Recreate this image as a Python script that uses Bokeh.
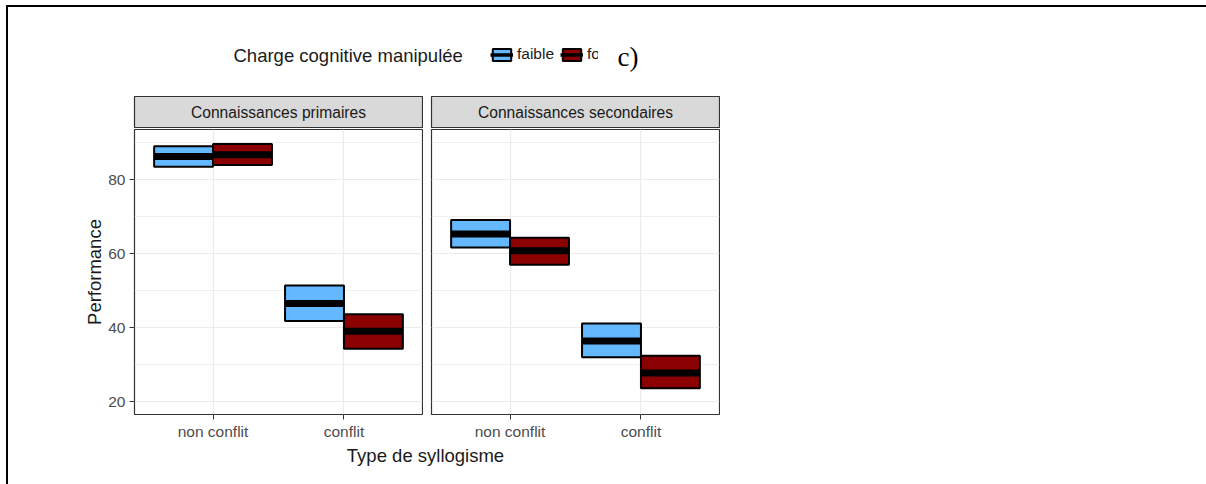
from bokeh.plotting import figure
from bokeh.models import (FactorRange, Range1d, FixedTicker, ColumnDataSource, Label,
                          Legend, LegendItem, Grid)
from bokeh.layouts import column, row
from bokeh.transform import dodge
from bokeh.embed import file_html
from bokeh.resources import INLINE

# ---------------- data ----------------
types = ["non conflit", "conflit"]
panels = ["Connaissances primaires", "Connaissances secondaires"]
charges = ["faible", "fort"]

prim_faible_mean = [86.3, 46.5]
prim_faible_low = [83.5, 41.8]
prim_faible_high = [89.1, 51.4]
prim_fort_mean = [86.8, 39.0]
prim_fort_low = [84.0, 34.3]
prim_fort_high = [89.7, 43.6]

sec_faible_mean = [65.3, 36.4]
sec_faible_low = [61.7, 32.0]
sec_faible_high = [69.1, 41.1]
sec_fort_mean = [60.8, 27.7]
sec_fort_low = [57.0, 23.6]
sec_fort_high = [64.3, 32.4]

y_ticks = [20, 40, 60, 80]
y_minor = [30, 50, 70, 90]

legend_title = "Charge cognitive manipulée"
x_title = "Type de syllogisme"
y_title = "Performance"
panel_tag = "c)"

# ---------------- styles ----------------
COL_FAIBLE = "#63B8FF"
COL_FORT = "#8B0000"
FONT = "Liberation Sans"
GRID = "#EBEBEB"
DARK = "#333333"

FRAME_W = 288
FRAME_H = 286
LEFT1 = 126
GAP = 8
BOTTOM = 27


def make_panel(means, lows, highs, first):
    mbl = LEFT1 if first else GAP
    p = figure(width=mbl + FRAME_W + 1, height=1 + FRAME_H + BOTTOM,
               x_range=FactorRange(factors=types, range_padding=0.1,
                                   range_padding_units="absolute"),
               y_range=Range1d(16.5, 93.6),
               output_backend="svg", toolbar_location=None,
               y_axis_location="left" if first else None,
               min_border_left=mbl, min_border_right=1,
               min_border_top=1, min_border_bottom=BOTTOM)
    yt = FixedTicker(ticks=y_ticks, minor_ticks=y_minor)
    if len(p.ygrid) == 0:
        p.add_layout(Grid(dimension=1, ticker=yt), "center")
    else:
        p.ygrid.ticker = yt
    p.ygrid.grid_line_color = GRID
    p.ygrid.grid_line_width = 1.2
    p.ygrid.minor_grid_line_color = GRID
    p.ygrid.minor_grid_line_width = 0.8
    p.xgrid.grid_line_color = GRID
    p.xgrid.grid_line_width = 1.2
    p.outline_line_color = DARK
    p.outline_line_width = 1.2

    for (c, m, lo, hi, off) in [(COL_FAIBLE, means[0], lows[0], highs[0], -0.225),
                                (COL_FORT, means[1], lows[1], highs[1], 0.225)]:
        src = ColumnDataSource(dict(type=types, mean=m, low=lo, high=hi))
        p.vbar(x=dodge("type", off, range=p.x_range), width=0.45,
               top="high", bottom="low", source=src,
               fill_color=c, line_color="black", line_width=2)
        p.rect(x=dodge("type", off, range=p.x_range), y="mean", width=0.45,
               height=7, height_units="screen", source=src,
               fill_color="black", line_color=None)

    p.xaxis.axis_line_color = None
    p.xaxis.major_tick_line_color = DARK
    p.xaxis.major_tick_out = 5
    p.xaxis.major_tick_in = 0
    p.xaxis.minor_tick_line_color = None
    p.xaxis.major_label_text_font = FONT
    p.xaxis.major_label_text_font_size = "15.5px"
    p.xaxis.major_label_text_color = "#4D4D4D"
    p.xaxis.major_label_standoff = 3
    if first:
        p.yaxis.ticker = yt
        p.yaxis.axis_line_color = None
        p.yaxis.major_tick_line_color = DARK
        p.yaxis.major_tick_out = 5
        p.yaxis.major_tick_in = 0
        p.yaxis.minor_tick_line_color = None
        p.yaxis.major_label_text_font = FONT
        p.yaxis.major_label_text_font_size = "15.5px"
        p.yaxis.major_label_text_color = "#4D4D4D"
        p.yaxis.major_label_standoff = 4
        p.yaxis.axis_label = y_title
        p.yaxis.axis_label_text_font = FONT
        p.yaxis.axis_label_text_font_size = "18.5px"
        p.yaxis.axis_label_text_font_style = "normal"
        p.yaxis.axis_label_text_color = "#1A1A1A"
        p.yaxis.axis_label_standoff = 0
    return p


def make_strip(name, first):
    mbl = LEFT1 if first else GAP
    s = figure(width=mbl + FRAME_W + 1, height=33,
               x_range=Range1d(0, 1), y_range=Range1d(0, 1),
               output_backend="svg", toolbar_location=None,
               x_axis_location=None, y_axis_location=None,
               min_border_left=mbl, min_border_right=1,
               min_border_top=1, min_border_bottom=0,
               background_fill_color="#D9D9D9")
    s.grid.visible = False
    s.outline_line_color = DARK
    s.outline_line_width = 1.2
    s.add_layout(Label(x=0.5, y=0.5, text=name, text_align="center",
                       text_baseline="middle", text_font=FONT,
                       text_font_size="15.6px", text_color="#1A1A1A"))
    return s


p1 = make_panel([prim_faible_mean, prim_fort_mean], [prim_faible_low, prim_fort_low],
                [prim_faible_high, prim_fort_high], True)
p2 = make_panel([sec_faible_mean, sec_fort_mean], [sec_faible_low, sec_fort_low],
                [sec_faible_high, sec_fort_high], False)
s1 = make_strip(panels[0], True)
s2 = make_strip(panels[1], False)

# ---------------- legend area (clipped at its right edge, like the source) ----------------
TW, LH = 1198, 88
LW = 590
lf = figure(width=LW, height=LH, x_range=Range1d(0, LW), y_range=Range1d(0, LH),
            output_backend="svg", toolbar_location=None,
            x_axis_location=None, y_axis_location=None,
            min_border=0)
lf.grid.visible = False
lf.outline_line_color = None
# legend key renderers (hidden; they only provide the legend glyphs)
src_leg_f = ColumnDataSource(dict(mean=prim_faible_mean, low=prim_faible_low, high=prim_faible_high))
src_leg_F = ColumnDataSource(dict(mean=prim_fort_mean, low=prim_fort_low, high=prim_fort_high))
r_f = lf.quad(left="low", right="high", top="high", bottom="low", source=src_leg_f,
              fill_color=COL_FAIBLE, line_color="black", line_width=2, visible=False)
r_F = lf.quad(left="low", right="high", top="high", bottom="low", source=src_leg_F,
              fill_color=COL_FORT, line_color="black", line_width=2, visible=False)
r_m = lf.segment(x0="low", y0="mean", x1="high", y1="mean", source=src_leg_f,
                 line_color="black", line_width=3.5, visible=False)
legend = Legend(items=[LegendItem(label=charges[0], renderers=[r_f, r_m]),
                       LegendItem(label=charges[1], renderers=[r_F, r_m])],
                orientation="horizontal", location=(482, 32),
                glyph_width=23, glyph_height=15, label_standoff=4, spacing=6,
                padding=0, margin=0, border_line_color=None,
                background_fill_alpha=0, label_text_font=FONT,
                label_text_font_size="15.5px", label_text_color="#1A1A1A",
                label_height=15, inactive_fill_alpha=0)
lf.add_layout(legend)
lf.add_layout(Label(x=225, y=40, text=legend_title, text_baseline="middle",
                    text_font=FONT, text_font_size="18.5px", text_color="#1A1A1A"))

tf = figure(width=TW - LW, height=LH, x_range=Range1d(0, TW - LW), y_range=Range1d(0, LH),
            output_backend="svg", toolbar_location=None,
            x_axis_location=None, y_axis_location=None, min_border=0)
tf.grid.visible = False
tf.outline_line_color = None
tf.add_layout(Label(x=19, y=39, text=panel_tag, text_baseline="middle",
                    text_font="Liberation Serif", text_font_size="27px",
                    text_color="black"))

# ---------------- x title ----------------
XH = 42
xf = figure(width=TW, height=XH, x_range=Range1d(0, TW), y_range=Range1d(0, XH),
            output_backend="svg", toolbar_location=None,
            x_axis_location=None, y_axis_location=None, min_border=0)
xf.grid.visible = False
xf.outline_line_color = None
xf.add_layout(Label(x=417, y=XH - 13, text=x_title, text_align="center",
                    text_baseline="middle", text_font=FONT,
                    text_font_size="18.5px", text_color="#1A1A1A"))

layout = column(row(lf, tf, spacing=0), row(s1, s2, spacing=0),
                row(p1, p2, spacing=0), xf,
                spacing=0,
                styles={"border-top": "2px solid black",
                        "border-left": "2px solid black",
                        "margin-top": "5px", "margin-left": "6px"})

open("out.html", "w").write(file_html(layout, INLINE))
